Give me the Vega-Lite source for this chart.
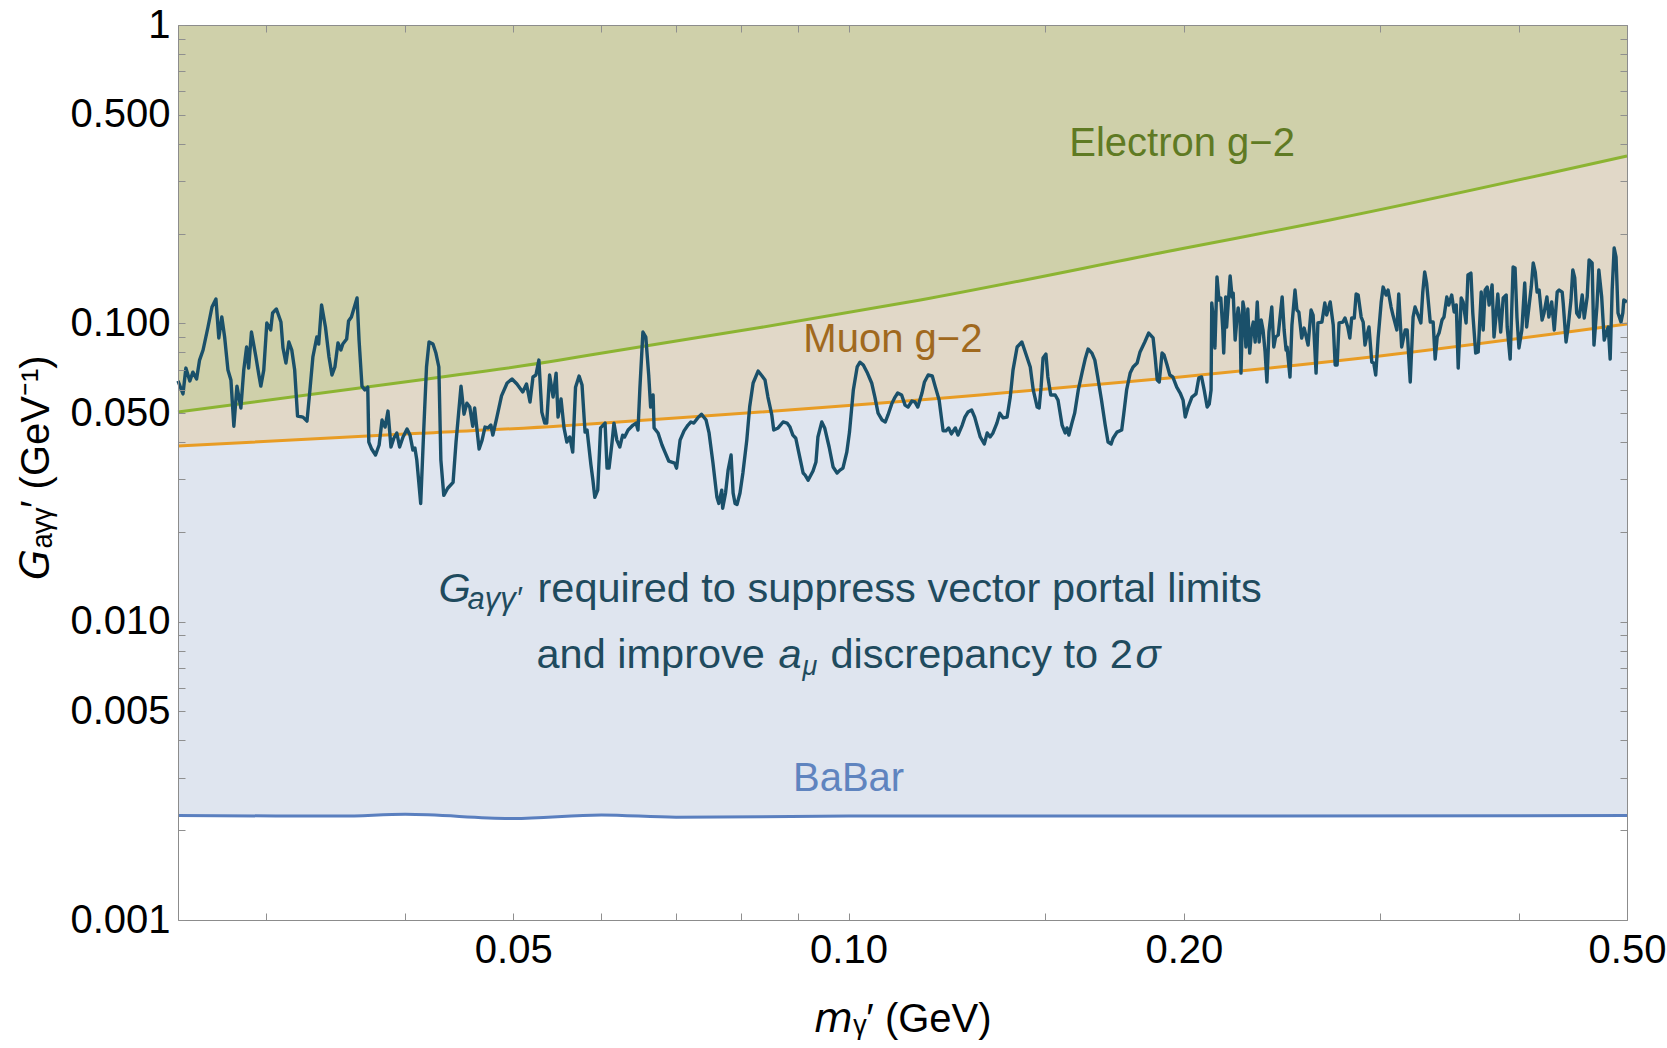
{
  "$schema": "https://vega.github.io/schema/vega-lite/v6.json",
  "width": 1449,
  "height": 895,
  "autosize": {"type": "none"},
  "padding": {"left": 178, "top": 25, "right": 40, "bottom": 128},
  "background": "white",
  "config": {
    "view": {"stroke": null},
    "font": "Liberation Sans",
    "axis": {
      "grid": false,
      "domain": true,
      "domainColor": "#8c8c8c",
      "domainWidth": 1,
      "ticks": true,
      "tickSize": -7,
      "tickColor": "#8f8f8f",
      "tickWidth": 1,
      "labelFont": "Liberation Sans",
      "labelFontSize": 40,
      "labelColor": "black",
      "labelOverlap": false,
      "labelFlush": false,
      "titleFont": "Liberation Sans",
      "titleFontSize": 40,
      "titleFontWeight": "normal",
      "titleColor": "black",
      "zindex": 1
    }
  },
  "datasets": {
    "babar": [
      {"m": 0.025, "G": 0.00224}, {"m": 0.035, "G": 0.00223}, {"m": 0.04, "G": 0.00226},
      {"m": 0.05, "G": 0.00219}, {"m": 0.06, "G": 0.00225}, {"m": 0.07, "G": 0.00221},
      {"m": 0.1, "G": 0.00223}, {"m": 0.2, "G": 0.00223}, {"m": 0.5, "G": 0.00224}
    ],
    "muon": [
      {"m": 0.025, "G": 0.0388}, {"m": 0.0412, "G": 0.0428}, {"m": 0.0551, "G": 0.0453},
      {"m": 0.0586, "G": 0.046}, {"m": 0.1312, "G": 0.0575}, {"m": 0.1985, "G": 0.0661},
      {"m": 0.3, "G": 0.0777}, {"m": 0.5, "G": 0.0995}
    ],
    "electron": [
      {"m": 0.025, "G": 0.0504}, {"m": 0.0412, "G": 0.0646}, {"m": 0.0551, "G": 0.0753},
      {"m": 0.0586, "G": 0.0783}, {"m": 0.0833, "G": 0.0968}, {"m": 0.116, "G": 0.1197},
      {"m": 0.1985, "G": 0.1775}, {"m": 0.2706, "G": 0.222}, {"m": 0.5, "G": 0.364}
    ],
    "required": [
      {"m":0.025,"G":0.0641},{"m":0.02526,"G":0.058},{"m":0.02541,"G":0.0708},{"m":0.02562,"G":0.0641},{"m":0.02578,"G":0.0686},{"m":0.02598,"G":0.0651},{"m":0.02614,"G":0.0753},{"m":0.02633,"G":0.0814},{"m":0.0266,"G":0.0972},{"m":0.02682,"G":0.1134},
      {"m":0.02704,"G":0.1206},{"m":0.0272,"G":0.0893},{"m":0.02737,"G":0.105},{"m":0.02753,"G":0.09},{"m":0.02772,"G":0.0697},{"m":0.02789,"G":0.0646},{"m":0.02806,"G":0.0452},{"m":0.02824,"G":0.0616},{"m":0.02847,"G":0.052},{"m":0.02864,"G":0.0697},
      {"m":0.02881,"G":0.0833},{"m":0.02893,"G":0.0708},{"m":0.0291,"G":0.0935},{"m":0.02937,"G":0.0771},{"m":0.02955,"G":0.0671},{"m":0.02967,"G":0.0616},{"m":0.02985,"G":0.0697},{"m":0.03004,"G":0.1003},{"m":0.03028,"G":0.095},{"m":0.0304,"G":0.1083},
      {"m":0.03064,"G":0.1117},{"m":0.03093,"G":0.101},{"m":0.03106,"G":0.0827},{"m":0.03125,"G":0.0736},{"m":0.03144,"G":0.0866},{"m":0.03163,"G":0.0814},{"m":0.03182,"G":0.0697},{"m":0.03201,"G":0.0489},{"m":0.03237,"G":0.0485},{"m":0.03264,"G":0.047},
      {"m":0.03284,"G":0.0598},{"m":0.03304,"G":0.0771},{"m":0.03331,"G":0.09},{"m":0.03344,"G":0.0852},{"m":0.03364,"G":0.1152},{"m":0.03391,"G":0.0972},{"m":0.03416,"G":0.0771},{"m":0.03437,"G":0.0671},{"m":0.03458,"G":0.0714},{"m":0.0348,"G":0.0859},
      {"m":0.03501,"G":0.0814},{"m":0.03515,"G":0.0852},{"m":0.03543,"G":0.0886},{"m":0.03557,"G":0.1018},{"m":0.03578,"G":0.105},{"m":0.0362,"G":0.1216},{"m":0.03635,"G":0.0879},{"m":0.03657,"G":0.0616},{"m":0.03679,"G":0.0598},{"m":0.03701,"G":0.0611},
      {"m":0.03709,"G":0.04},{"m":0.03731,"G":0.0379},{"m":0.03761,"G":0.0362},{"m":0.03789,"G":0.0391},{"m":0.03812,"G":0.0474},{"m":0.03836,"G":0.0449},{"m":0.03859,"G":0.0508},{"m":0.03883,"G":0.0385},{"m":0.03906,"G":0.0412},{"m":0.0393,"G":0.0429},
      {"m":0.03953,"G":0.0385},{"m":0.03981,"G":0.0416},{"m":0.04014,"G":0.0442},{"m":0.04039,"G":0.0422},{"m":0.04063,"G":0.0376},{"m":0.0408,"G":0.0382},{"m":0.04096,"G":0.0348},{"m":0.04129,"G":0.0249},{"m":0.04154,"G":0.0429},{"m":0.04179,"G":0.0714},
      {"m":0.04201,"G":0.0866},{"m":0.04235,"G":0.0852},{"m":0.04261,"G":0.0795},{"m":0.04287,"G":0.0714},{"m":0.04305,"G":0.0348},{"m":0.04331,"G":0.0265},{"m":0.04366,"G":0.028},{"m":0.04415,"G":0.0293},{"m":0.04442,"G":0.04},{"m":0.04488,"G":0.0616},
      {"m":0.04516,"G":0.0496},{"m":0.04543,"G":0.054},{"m":0.0457,"G":0.0524},{"m":0.04598,"G":0.0452},{"m":0.04616,"G":0.052},{"m":0.04659,"G":0.0379},{"m":0.04688,"G":0.0406},{"m":0.04716,"G":0.0449},{"m":0.04745,"G":0.0446},{"m":0.04774,"G":0.0456},
      {"m":0.04793,"G":0.0422},{"m":0.04832,"G":0.0482},{"m":0.0488,"G":0.0571},{"m":0.04937,"G":0.0631},{"m":0.04987,"G":0.0651},{"m":0.05038,"G":0.0626},{"m":0.05099,"G":0.0589},{"m":0.05139,"G":0.0626},{"m":0.05176,"G":0.0545},{"m":0.05208,"G":0.0661},
      {"m":0.0524,"G":0.0671},{"m":0.05272,"G":0.0753},{"m":0.05304,"G":0.0504},{"m":0.05336,"G":0.0463},{"m":0.05358,"G":0.0463},{"m":0.0539,"G":0.0671},{"m":0.05429,"G":0.0566},{"m":0.05463,"G":0.0681},{"m":0.05485,"G":0.0485},{"m":0.05519,"G":0.0558},
      {"m":0.05553,"G":0.0446},{"m":0.05586,"G":0.04},{"m":0.0562,"G":0.0416},{"m":0.05654,"G":0.037},{"m":0.05687,"G":0.0611},{"m":0.05729,"G":0.0666},{"m":0.05764,"G":0.0621},{"m":0.058,"G":0.0432},{"m":0.05824,"G":0.0439},{"m":0.05871,"G":0.0335},
      {"m":0.05895,"G":0.0298},{"m":0.05918,"G":0.0261},{"m":0.05954,"G":0.0276},{"m":0.05989,"G":0.0446},{"m":0.06045,"G":0.0463},{"m":0.0607,"G":0.0327},{"m":0.06095,"G":0.0327},{"m":0.06132,"G":0.0397},{"m":0.06157,"G":0.0463},{"m":0.06194,"G":0.0406},
      {"m":0.06232,"G":0.0385},{"m":0.06269,"G":0.0422},{"m":0.06294,"G":0.0416},{"m":0.0634,"G":0.0439},{"m":0.06406,"G":0.0456},{"m":0.06445,"G":0.0463},{"m":0.06471,"G":0.0439},{"m":0.06497,"G":0.0611},{"m":0.06537,"G":0.0935},{"m":0.06576,"G":0.09},
      {"m":0.06616,"G":0.0671},{"m":0.06642,"G":0.0524},{"m":0.06676,"G":0.0575},{"m":0.0669,"G":0.0446},{"m":0.06745,"G":0.0429},{"m":0.068,"G":0.0391},{"m":0.06842,"G":0.037},{"m":0.06897,"G":0.0345},{"m":0.0698,"G":0.034},{"m":0.07008,"G":0.0327},
      {"m":0.07059,"G":0.0406},{"m":0.07117,"G":0.0436},{"m":0.07176,"G":0.0456},{"m":0.07219,"G":0.0467},{"m":0.07263,"G":0.0463},{"m":0.07321,"G":0.0482},{"m":0.07379,"G":0.0496},{"m":0.07449,"G":0.0474},{"m":0.07495,"G":0.0429},{"m":0.07556,"G":0.034},
      {"m":0.07618,"G":0.0261},{"m":0.07648,"G":0.0249},{"m":0.07694,"G":0.0276},{"m":0.07709,"G":0.024},{"m":0.07755,"G":0.027},{"m":0.07796,"G":0.0322},{"m":0.07844,"G":0.0362},{"m":0.07877,"G":0.027},{"m":0.07909,"G":0.0249},{"m":0.07941,"G":0.0247},
      {"m":0.0799,"G":0.027},{"m":0.08038,"G":0.0315},{"m":0.08103,"G":0.0406},{"m":0.08151,"G":0.0524},{"m":0.0821,"G":0.0631},{"m":0.08295,"G":0.0692},{"m":0.08363,"G":0.0666},{"m":0.08414,"G":0.0646},{"m":0.08465,"G":0.0566},{"m":0.08533,"G":0.0493},
      {"m":0.08567,"G":0.0439},{"m":0.08645,"G":0.0446},{"m":0.08734,"G":0.0467},{"m":0.08806,"G":0.0463},{"m":0.0886,"G":0.0449},{"m":0.08913,"G":0.0422},{"m":0.08967,"G":0.0412},{"m":0.09021,"G":0.037},{"m":0.09104,"G":0.0315},{"m":0.09142,"G":0.031},
      {"m":0.09198,"G":0.0298},{"m":0.09292,"G":0.032},{"m":0.09349,"G":0.0343},{"m":0.09387,"G":0.0416},{"m":0.09462,"G":0.0467},{"m":0.09519,"G":0.0446},{"m":0.09607,"G":0.0385},{"m":0.09686,"G":0.033},{"m":0.09766,"G":0.0315},{"m":0.09825,"G":0.0322},
      {"m":0.09885,"G":0.0327},{"m":0.09964,"G":0.037},{"m":0.1002,"G":0.0432},{"m":0.101,"G":0.0598},{"m":0.1018,"G":0.0714},{"m":0.1024,"G":0.0741},{"m":0.1031,"G":0.0725},{"m":0.1039,"G":0.0686},{"m":0.1049,"G":0.0631},{"m":0.1056,"G":0.0566},
      {"m":0.1063,"G":0.05},{"m":0.1072,"G":0.0474},{"m":0.1079,"G":0.0467},{"m":0.1085,"G":0.0493},{"m":0.1094,"G":0.054},{"m":0.1101,"G":0.0566},{"m":0.1107,"G":0.0584},{"m":0.1116,"G":0.0575},{"m":0.1124,"G":0.0532},{"m":0.1131,"G":0.0524},
      {"m":0.114,"G":0.0549},{"m":0.1147,"G":0.0545},{"m":0.1154,"G":0.0524},{"m":0.1164,"G":0.0584},{"m":0.117,"G":0.0636},{"m":0.1179,"G":0.0671},{"m":0.1189,"G":0.0666},{"m":0.1196,"G":0.0616},{"m":0.1206,"G":0.0553},{"m":0.1216,"G":0.0436},
      {"m":0.1223,"G":0.0436},{"m":0.123,"G":0.0446},{"m":0.1237,"G":0.0426},{"m":0.1247,"G":0.0446},{"m":0.1254,"G":0.0422},{"m":0.1265,"G":0.0456},{"m":0.1272,"G":0.0485},{"m":0.128,"G":0.0504},{"m":0.129,"G":0.0512},{"m":0.1298,"G":0.0485},
      {"m":0.1313,"G":0.0416},{"m":0.1324,"G":0.0394},{"m":0.1332,"G":0.0429},{"m":0.134,"G":0.0416},{"m":0.1348,"G":0.0429},{"m":0.1359,"G":0.0463},{"m":0.1367,"G":0.05},{"m":0.1377,"G":0.0482},{"m":0.1388,"G":0.0485},{"m":0.1397,"G":0.0566},
      {"m":0.1405,"G":0.0697},{"m":0.1417,"G":0.0833},{"m":0.1431,"G":0.0866},{"m":0.1439,"G":0.0814},{"m":0.1456,"G":0.0714},{"m":0.1465,"G":0.0598},{"m":0.1477,"G":0.0524},{"m":0.1483,"G":0.052},{"m":0.1489,"G":0.0611},{"m":0.1495,"G":0.0765},
      {"m":0.1504,"G":0.0789},{"m":0.151,"G":0.0661},{"m":0.1519,"G":0.0575},{"m":0.1533,"G":0.0575},{"m":0.1542,"G":0.0553},{"m":0.1555,"G":0.0456},{"m":0.1565,"G":0.0429},{"m":0.1571,"G":0.0446},{"m":0.1577,"G":0.0422},{"m":0.1587,"G":0.0463},
      {"m":0.1596,"G":0.05},{"m":0.1608,"G":0.0598},{"m":0.1621,"G":0.0686},{"m":0.1631,"G":0.0759},{"m":0.1641,"G":0.082},{"m":0.1654,"G":0.0795},{"m":0.1664,"G":0.0753},{"m":0.1674,"G":0.0661},{"m":0.1687,"G":0.0553},{"m":0.17,"G":0.0456},
      {"m":0.171,"G":0.04},{"m":0.1721,"G":0.0394},{"m":0.1728,"G":0.0412},{"m":0.1742,"G":0.0432},{"m":0.1759,"G":0.0439},{"m":0.1766,"G":0.0493},{"m":0.1777,"G":0.0598},{"m":0.179,"G":0.0681},{"m":0.1801,"G":0.0714},{"m":0.1816,"G":0.0736},
      {"m":0.1827,"G":0.0802},{"m":0.1845,"G":0.0866},{"m":0.186,"G":0.0928},{"m":0.1877,"G":0.0893},{"m":0.1885,"G":0.0771},{"m":0.1893,"G":0.0646},{"m":0.1901,"G":0.0636},{"m":0.1912,"G":0.0795},{"m":0.192,"G":0.0783},{"m":0.1932,"G":0.0725},
      {"m":0.1943,"G":0.0671},{"m":0.1955,"G":0.0661},{"m":0.1971,"G":0.0611},{"m":0.1985,"G":0.0584},{"m":0.1997,"G":0.0553},{"m":0.2006,"G":0.0485},{"m":0.2018,"G":0.0524},{"m":0.2034,"G":0.0566},{"m":0.2051,"G":0.058},{"m":0.2063,"G":0.0656},
      {"m":0.2075,"G":0.0661},{"m":0.2086,"G":0.0598},{"m":0.2099,"G":0.0524},{"m":0.2108,"G":0.0536},{"m":0.2116,"G":0.0598},{"m":0.2119,"G":0.117},{"m":0.2125,"G":0.105},{"m":0.2133,"G":0.0827},{"m":0.2142,"G":0.143},{"m":0.2151,"G":0.1197},
      {"m":0.2159,"G":0.1216},{"m":0.2168,"G":0.095},{"m":0.2172,"G":0.0795},{"m":0.2181,"G":0.1225},{"m":0.2185,"G":0.0972},{"m":0.2201,"G":0.1441},{"m":0.221,"G":0.1225},{"m":0.2215,"G":0.1263},{"m":0.2224,"G":0.0879},{"m":0.2233,"G":0.105},
      {"m":0.2238,"G":0.1126},{"m":0.2247,"G":0.101},{"m":0.2251,"G":0.0681},{"m":0.226,"G":0.1179},{"m":0.2265,"G":0.1126},{"m":0.2274,"G":0.0833},{"m":0.2283,"G":0.1117},{"m":0.2292,"G":0.0795},{"m":0.2301,"G":0.095},{"m":0.2309,"G":0.101},
      {"m":0.2318,"G":0.0866},{"m":0.2328,"G":0.1179},{"m":0.2337,"G":0.0866},{"m":0.2347,"G":0.1026},{"m":0.2356,"G":0.095},{"m":0.2366,"G":0.0802},{"m":0.2375,"G":0.0636},{"m":0.2385,"G":0.0935},{"m":0.2399,"G":0.1134},{"m":0.2409,"G":0.0833},
      {"m":0.2418,"G":0.09},{"m":0.2431,"G":0.0914},{"m":0.2451,"G":0.1225},{"m":0.2461,"G":0.095},{"m":0.2471,"G":0.0814},{"m":0.2476,"G":0.0833},{"m":0.2491,"G":0.0661},{"m":0.2501,"G":0.0987},{"m":0.2517,"G":0.1293},{"m":0.2527,"G":0.1108},
      {"m":0.2537,"G":0.1091},{"m":0.2552,"G":0.0893},{"m":0.2565,"G":0.0964},{"m":0.2576,"G":0.09},{"m":0.2586,"G":0.0846},{"m":0.2602,"G":0.1108},{"m":0.2613,"G":0.1066},{"m":0.2629,"G":0.0681},{"m":0.2639,"G":0.1003},{"m":0.2661,"G":0.101},
      {"m":0.2677,"G":0.117},{"m":0.2687,"G":0.1066},{"m":0.2707,"G":0.1179},{"m":0.2724,"G":0.0987},{"m":0.2735,"G":0.0725},{"m":0.2746,"G":0.0725},{"m":0.2757,"G":0.1003},{"m":0.2779,"G":0.101},{"m":0.2791,"G":0.1042},{"m":0.2807,"G":0.0972},
      {"m":0.2819,"G":0.0893},{"m":0.283,"G":0.1042},{"m":0.2845,"G":0.1042},{"m":0.2856,"G":0.1254},{"m":0.2868,"G":0.1244},{"m":0.2886,"G":0.105},{"m":0.2898,"G":0.101},{"m":0.2909,"G":0.0846},{"m":0.2921,"G":0.0914},{"m":0.2933,"G":0.0972},
      {"m":0.295,"G":0.0741},{"m":0.2962,"G":0.0736},{"m":0.2974,"G":0.0671},{"m":0.2989,"G":0.0893},{"m":0.3008,"G":0.1179},{"m":0.302,"G":0.1323},{"m":0.3039,"G":0.1244},{"m":0.3051,"G":0.1293},{"m":0.307,"G":0.1134},{"m":0.3082,"G":0.1066},
      {"m":0.3095,"G":0.1003},{"m":0.3107,"G":0.095},{"m":0.3119,"G":0.1254},{"m":0.3138,"G":0.0833},{"m":0.3161,"G":0.095},{"m":0.3174,"G":0.095},{"m":0.3194,"G":0.0636},{"m":0.3213,"G":0.105},{"m":0.3226,"G":0.1134},{"m":0.3246,"G":0.1066},
      {"m":0.3265,"G":0.1003},{"m":0.3278,"G":0.1273},{"m":0.3291,"G":0.1486},{"m":0.3304,"G":0.1365},{"m":0.3329,"G":0.101},{"m":0.3349,"G":0.101},{"m":0.3363,"G":0.0759},{"m":0.3377,"G":0.09},{"m":0.339,"G":0.0928},{"m":0.3411,"G":0.1026},
      {"m":0.3425,"G":0.105},{"m":0.3445,"G":0.1225},{"m":0.3459,"G":0.1152},{"m":0.348,"G":0.1244},{"m":0.3498,"G":0.1091},{"m":0.3513,"G":0.1152},{"m":0.3527,"G":0.0708},{"m":0.3549,"G":0.1216},{"m":0.3563,"G":0.1179},{"m":0.3585,"G":0.1003},
      {"m":0.3599,"G":0.1452},{"m":0.3621,"G":0.1474},{"m":0.3635,"G":0.1083},{"m":0.3657,"G":0.0795},{"m":0.3676,"G":0.0802},{"m":0.3699,"G":0.1273},{"m":0.3714,"G":0.095},{"m":0.3729,"G":0.1293},{"m":0.3745,"G":0.1323},{"m":0.376,"G":0.1152},
      {"m":0.3783,"G":0.1344},{"m":0.3798,"G":0.09},{"m":0.3813,"G":0.105},{"m":0.3828,"G":0.1254},{"m":0.3851,"G":0.0935},{"m":0.3871,"G":0.1216},{"m":0.3895,"G":0.1244},{"m":0.3903,"G":0.0972},{"m":0.3927,"G":0.0759},{"m":0.3951,"G":0.1545},
      {"m":0.3967,"G":0.1533},{"m":0.3983,"G":0.1042},{"m":0.3999,"G":0.0827},{"m":0.4023,"G":0.095},{"m":0.4047,"G":0.1365},{"m":0.4063,"G":0.0972},{"m":0.4102,"G":0.1323},{"m":0.4119,"G":0.1593},{"m":0.4136,"G":0.1486},{"m":0.4152,"G":0.1273},
      {"m":0.4169,"G":0.1293},{"m":0.4195,"G":0.1026},{"m":0.4212,"G":0.1083},{"m":0.4237,"G":0.1225},{"m":0.4254,"G":0.105},{"m":0.4279,"G":0.1179},{"m":0.4302,"G":0.095},{"m":0.4328,"G":0.1273},{"m":0.4346,"G":0.1293},{"m":0.4373,"G":0.1273},
      {"m":0.4382,"G":0.117},{"m":0.4408,"G":0.0866},{"m":0.4426,"G":0.0964},{"m":0.4453,"G":0.1197},{"m":0.447,"G":0.1509},{"m":0.4488,"G":0.1419},{"m":0.4506,"G":0.1083},{"m":0.453,"G":0.105},{"m":0.4558,"G":0.1244},{"m":0.4577,"G":0.1042},
      {"m":0.4605,"G":0.1225},{"m":0.4623,"G":0.163},{"m":0.4652,"G":0.1593},{"m":0.467,"G":0.0846},{"m":0.4698,"G":0.1134},{"m":0.4717,"G":0.1509},{"m":0.4745,"G":0.1225},{"m":0.477,"G":0.0879},{"m":0.479,"G":0.0928},{"m":0.481,"G":0.0972},
      {"m":0.4829,"G":0.0759},{"m":0.4849,"G":0.1293},{"m":0.4869,"G":0.1788},{"m":0.4888,"G":0.1668},{"m":0.4908,"G":0.1083},{"m":0.4938,"G":0.101},{"m":0.4957,"G":0.1083},{"m":0.4967,"G":0.1197},{"m":0.5,"G":0.1179}
    ]
  },
  "resolve": {"axis": {"x": "independent", "y": "independent"}},
  "layer": [
    {
      "data": {"name": "babar"},
      "mark": {"type": "area", "color": "#dfe5ef", "interpolate": "monotone"},
      "encoding": {
        "x": {
          "field": "m", "type": "quantitative",
          "scale": {"type": "log", "domain": [0.025, 0.5], "nice": false},
          "axis": {
            "orient": "bottom",
            "zindex": 2,
            "values": [0.03, 0.04, 0.05, 0.06, 0.07, 0.08, 0.09, 0.1, 0.15, 0.2, 0.3, 0.4, 0.5],
            "labelExpr": "indexof([0.05, 0.1, 0.2, 0.5], datum.value) >= 0 ? format(datum.value, '.2f') : ''",
            "labelPadding": 17,
            "title": "𝘮ᵧ′ (GeV)",
            "titleX": 724.5,
            "titleY": 111,
            "titleAlign": "center",
            "titleBaseline": "alphabetic",
            "encode": {"ticks": {"update": {"y2": {"signal": "indexof([0.05, 0.1, 0.2, 0.5], datum.value) >= 0 ? -14 : -7"}}}}
          }
        },
        "y": {
          "field": "G", "type": "quantitative",
          "scale": {"type": "log", "domain": [0.001, 1], "nice": false},
          "axis": {
            "orient": "left",
            "zindex": 2,
            "values": [0.001, 0.002, 0.003, 0.004, 0.005, 0.006, 0.007, 0.008, 0.009, 0.01, 0.02, 0.03, 0.04, 0.05, 0.06, 0.07, 0.08, 0.09, 0.1, 0.2, 0.3, 0.4, 0.5, 0.6, 0.7, 0.8, 0.9, 1],
            "labelExpr": "datum.value == 1 ? '1' : (indexof([0.001, 0.005, 0.01, 0.05, 0.1, 0.5], datum.value) >= 0 ? format(datum.value, '.3f') : '')",
            "labelPadding": 15,
            "title": "𝘎ₐᵧᵧ′ (GeV⁻¹)",
            "titleAngle": -90,
            "titleX": -130,
            "titleY": 442,
            "titleAlign": "center",
            "titleBaseline": "alphabetic",
            "encode": {"ticks": {"update": {"x2": {"signal": "indexof([0.001, 0.005, 0.01, 0.05, 0.1, 0.5, 1], datum.value) >= 0 ? 14 : 7"}}}}
          }
        },
        "y2": {"datum": 1}
      }
    },
    {
      "data": {"name": "muon"},
      "mark": {"type": "area", "color": "#e1d8c8", "interpolate": "monotone"},
      "encoding": {
        "x": {"field": "m", "type": "quantitative", "scale": {"type": "log", "domain": [0.025, 0.5], "nice": false}, "axis": null},
        "y": {"field": "G", "type": "quantitative", "scale": {"type": "log", "domain": [0.001, 1], "nice": false}, "axis": null},
        "y2": {"datum": 1}
      }
    },
    {
      "data": {"name": "electron"},
      "mark": {"type": "area", "color": "#cfd0aa", "interpolate": "monotone"},
      "encoding": {
        "x": {"field": "m", "type": "quantitative", "scale": {"type": "log", "domain": [0.025, 0.5], "nice": false}, "axis": null},
        "y": {"field": "G", "type": "quantitative", "scale": {"type": "log", "domain": [0.001, 1], "nice": false}, "axis": null},
        "y2": {"datum": 1}
      }
    },
    {
      "data": {"name": "electron"},
      "mark": {"type": "line", "color": "#8cb432", "strokeWidth": 3, "interpolate": "monotone"},
      "encoding": {
        "x": {"field": "m", "type": "quantitative", "scale": {"type": "log", "domain": [0.025, 0.5], "nice": false}, "axis": null},
        "y": {"field": "G", "type": "quantitative", "scale": {"type": "log", "domain": [0.001, 1], "nice": false}, "axis": null}
      }
    },
    {
      "data": {"name": "muon"},
      "mark": {"type": "line", "color": "#e89c24", "strokeWidth": 3, "interpolate": "monotone"},
      "encoding": {
        "x": {"field": "m", "type": "quantitative", "scale": {"type": "log", "domain": [0.025, 0.5], "nice": false}, "axis": null},
        "y": {"field": "G", "type": "quantitative", "scale": {"type": "log", "domain": [0.001, 1], "nice": false}, "axis": null}
      }
    },
    {
      "data": {"name": "babar"},
      "mark": {"type": "line", "color": "#5a7fbf", "strokeWidth": 3, "interpolate": "monotone"},
      "encoding": {
        "x": {
          "field": "m", "type": "quantitative",
          "scale": {"type": "log", "domain": [0.025, 0.5], "nice": false},
          "axis": {
            "orient": "top",
            "zindex": 2,
            "values": [0.03, 0.04, 0.05, 0.06, 0.07, 0.08, 0.09, 0.1, 0.15, 0.2, 0.3, 0.4, 0.5],
            "labels": false,
            "title": null,
            "encode": {"ticks": {"update": {"y2": {"signal": "indexof([0.05, 0.1, 0.2, 0.5], datum.value) >= 0 ? 14 : 7"}}}}
          }
        },
        "y": {
          "field": "G", "type": "quantitative",
          "scale": {"type": "log", "domain": [0.001, 1], "nice": false},
          "axis": {
            "orient": "right",
            "zindex": 2,
            "values": [0.001, 0.002, 0.003, 0.004, 0.005, 0.006, 0.007, 0.008, 0.009, 0.01, 0.02, 0.03, 0.04, 0.05, 0.06, 0.07, 0.08, 0.09, 0.1, 0.2, 0.3, 0.4, 0.5, 0.6, 0.7, 0.8, 0.9, 1],
            "labels": false,
            "title": null,
            "encode": {"ticks": {"update": {"x2": {"signal": "indexof([0.001, 0.005, 0.01, 0.05, 0.1, 0.5, 1], datum.value) >= 0 ? -14 : -7"}}}}
          }
        }
      }
    },
    {
      "data": {"name": "required"},
      "mark": {"type": "line", "color": "#1a506a", "strokeWidth": 3.4, "strokeJoin": "round"},
      "encoding": {
        "x": {"field": "m", "type": "quantitative", "scale": {"type": "log", "domain": [0.025, 0.5], "nice": false}, "axis": null},
        "y": {"field": "G", "type": "quantitative", "scale": {"type": "log", "domain": [0.001, 1], "nice": false}, "axis": null}
      }
    },
    {
      "data": {"values": [{}]},
      "mark": {"type": "text", "text": "Electron g−2", "font": "Liberation Sans", "fontSize": 40, "color": "#5f7a23", "align": "center", "baseline": "alphabetic"},
      "encoding": {
        "x": {"datum": 0.1993, "type": "quantitative", "scale": {"type": "log", "domain": [0.025, 0.5], "nice": false}, "axis": null},
        "y": {"datum": 0.3646, "type": "quantitative", "scale": {"type": "log", "domain": [0.001, 1], "nice": false}, "axis": null}
      }
    },
    {
      "data": {"values": [{}]},
      "mark": {"type": "text", "text": "Muon g−2", "font": "Liberation Sans", "fontSize": 40, "color": "#a0691e", "align": "center", "baseline": "alphabetic"},
      "encoding": {
        "x": {"datum": 0.1096, "type": "quantitative", "scale": {"type": "log", "domain": [0.025, 0.5], "nice": false}, "axis": null},
        "y": {"datum": 0.0803, "type": "quantitative", "scale": {"type": "log", "domain": [0.001, 1], "nice": false}, "axis": null}
      }
    },
    {
      "data": {"values": [{}]},
      "mark": {"type": "text", "text": "BaBar", "font": "Liberation Sans", "fontSize": 40, "color": "#5f84bf", "align": "center", "baseline": "alphabetic"},
      "encoding": {
        "x": {"datum": 0.1, "type": "quantitative", "scale": {"type": "log", "domain": [0.025, 0.5], "nice": false}, "axis": null},
        "y": {"datum": 0.00271, "type": "quantitative", "scale": {"type": "log", "domain": [0.001, 1], "nice": false}, "axis": null}
      }
    },
    {
      "data": {"values": [{}]},
      "encoding": {
        "x": {"datum": 0.1, "type": "quantitative", "scale": {"type": "log", "domain": [0.025, 0.5], "nice": false}, "axis": null},
        "y": {"datum": 0.01167, "type": "quantitative", "scale": {"type": "log", "domain": [0.001, 1], "nice": false}, "axis": null}
      },
      "layer": [
        {"mark": {"type": "text", "text": "G", "font": "Liberation Sans", "fontStyle": "italic", "fontSize": 41.5, "color": "#1f4b5e", "align": "left", "baseline": "alphabetic", "dx": -410}},
        {"mark": {"type": "text", "text": "aγγ′", "font": "Liberation Sans", "fontStyle": "italic", "fontSize": 31, "color": "#1f4b5e", "align": "left", "baseline": "alphabetic", "dx": -381, "dy": 7}},
        {"mark": {"type": "text", "text": "required to suppress vector portal limits", "font": "Liberation Sans", "fontSize": 41.5, "color": "#1f4b5e", "align": "left", "baseline": "alphabetic", "dx": -311}}
      ]
    },
    {
      "data": {"values": [{}]},
      "encoding": {
        "x": {"datum": 0.1, "type": "quantitative", "scale": {"type": "log", "domain": [0.025, 0.5], "nice": false}, "axis": null},
        "y": {"datum": 0.006978, "type": "quantitative", "scale": {"type": "log", "domain": [0.001, 1], "nice": false}, "axis": null}
      },
      "layer": [
        {"mark": {"type": "text", "text": "and improve", "font": "Liberation Sans", "fontSize": 41.5, "color": "#1f4b5e", "align": "left", "baseline": "alphabetic", "dx": -312}},
        {"mark": {"type": "text", "text": "a", "font": "Liberation Sans", "fontStyle": "italic", "fontSize": 41.5, "color": "#1f4b5e", "align": "left", "baseline": "alphabetic", "dx": -70}},
        {"mark": {"type": "text", "text": "μ", "font": "Liberation Sans", "fontStyle": "italic", "fontSize": 27, "color": "#1f4b5e", "align": "left", "baseline": "alphabetic", "dx": -46, "dy": 7}},
        {"mark": {"type": "text", "text": "discrepancy to 2", "font": "Liberation Sans", "fontSize": 41.5, "color": "#1f4b5e", "align": "left", "baseline": "alphabetic", "dx": -18}},
        {"mark": {"type": "text", "text": "σ", "font": "Liberation Sans", "fontStyle": "italic", "fontSize": 41.5, "color": "#1f4b5e", "align": "left", "baseline": "alphabetic", "dx": 287}}
      ]
    }
  ]
}
